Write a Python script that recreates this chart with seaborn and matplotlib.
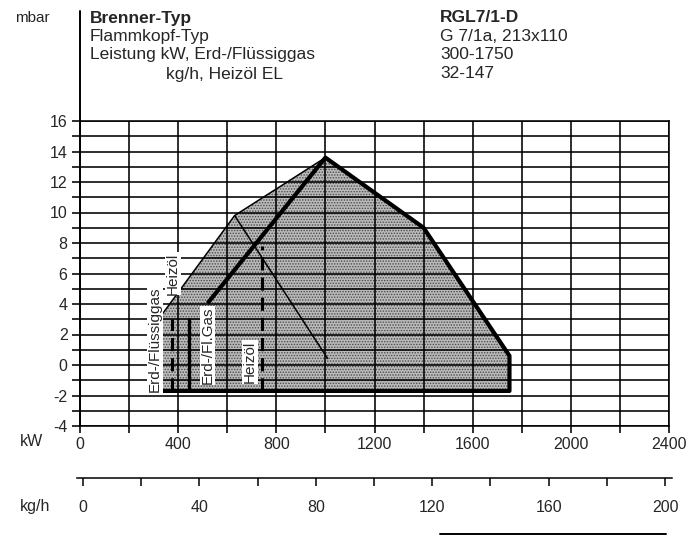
import numpy as np
import pandas as pd
import matplotlib
matplotlib.use("Agg")
import matplotlib.pyplot as plt
from matplotlib.lines import Line2D
from matplotlib.ticker import MultipleLocator
import seaborn as sns

# --- burner data -----------------------------------------------------------
# operating field outline (shaded area), kW vs. mbar
field_kw = [320, 320, 630, 1000, 1400, 1750, 1750]
field_mbar = [-1.7, 3.0, 9.8, 13.6, 9.0, 0.6, -1.7]

# gas operating range (heavy line)
gas_kw = [520, 1000, 1400, 1750, 1750, 320]
gas_mbar = [4.05, 13.6, 9.0, 0.6, -1.7, -1.7]

# fuel-oil range (thin lines)
oil_left_kw = [320, 320, 630, 1000]
oil_left_mbar = [-1.7, 3.0, 9.8, 13.6]
oil_right_kw = [630, 1010]
oil_right_mbar = [9.8, 0.4]

# minimum-load limits
gas_min_kw = [445, 445]
gas_min_mbar = [-1.7, 3.1]
oil_min_kw = [375, 375]
oil_min_mbar = [-1.7, 3.0]
oil_mid_kw = [742, 742]
oil_mid_mbar = [-1.7, 7.8]

kw_ticks = [0, 400, 800, 1200, 1600, 2000, 2400]
mbar_ticks = [-4, -2, 0, 2, 4, 6, 8, 10, 12, 14, 16]
kgh_ticks = [0, 40, 80, 120, 160, 200]

header_left = ["Brenner-Typ", "Flammkopf-Typ", "Leistung kW, Erd-/Flüssiggas", "kg/h, Heizöl EL"]
header_right = ["RGL7/1-D", "G 7/1a, 213x110", "300-1750", "32-147"]

# --- style -----------------------------------------------------------------
sns.set_theme(style="white")
plt.rcParams["font.family"] = ["Liberation Sans", "DejaVu Sans"]
plt.rcParams["hatch.linewidth"] = 0.7

W, H = 694, 538
fig = plt.figure(figsize=(W / 100, H / 100), dpi=100)
fig.patch.set_facecolor("white")

ax = fig.add_axes([80 / W, 112 / H, 589 / W, 305 / H])
ax.set_xlim(0, 2400)
ax.set_ylim(-4, 16)
ax.set_facecolor("white")

grid_lw = 1.15
ax.xaxis.set_major_locator(MultipleLocator(400))
ax.xaxis.set_minor_locator(MultipleLocator(200))
ax.yaxis.set_major_locator(MultipleLocator(2))
ax.yaxis.set_minor_locator(MultipleLocator(1))
ax.set_xticks(kw_ticks)
ax.set_yticks(mbar_ticks)
ax.set_xticklabels([str(v) for v in kw_ticks], fontsize=11.5)
ax.set_yticklabels([str(v) for v in mbar_ticks], fontsize=11.5)
ax.grid(True, which="both", color="black", lw=grid_lw)
ax.set_axisbelow(False)
for side in ["left", "right", "top", "bottom"]:
    ax.spines[side].set_visible(True)
    ax.spines[side].set_color("black")
    ax.spines[side].set_linewidth(grid_lw)
ax.spines["left"].set_linewidth(1.4)
ax.tick_params(axis="both", which="both", direction="out", color="black",
               width=grid_lw, bottom=True, left=True)
ax.tick_params(axis="y", which="both", length=6, pad=3)
ax.tick_params(axis="x", which="both", length=5, pad=3)

# shaded operating field
ax.fill(field_kw, field_mbar, facecolor="#bababa", edgecolor="#4a4a4a",
        hatch="......", lw=0, zorder=1)

def draw(xs, ys, lw, dashes=None):
    df = pd.DataFrame({"kW": xs, "mbar": ys})
    sns.lineplot(data=df, x="kW", y="mbar", sort=False, estimator=None,
                 color="black", lw=lw, ax=ax, zorder=4)
    if dashes is not None:
        ax.lines[-1].set_dashes(dashes)
    ax.lines[-1].set_solid_capstyle("butt")

draw(gas_kw, gas_mbar, 3.0)
draw(oil_left_kw, oil_left_mbar, 1.1)
draw(oil_right_kw, oil_right_mbar, 1.1)
draw(gas_min_kw, gas_min_mbar, 2.4)
draw(oil_min_kw, oil_min_mbar, 2.2, dashes=(4.3, 2.3))
draw(oil_mid_kw, oil_mid_mbar, 2.2, dashes=(4.3, 2.3))
ax.set_xlabel("")
ax.set_ylabel("")

# rotated range labels
box = dict(facecolor="white", edgecolor="none", pad=0.6)
lab_kw = dict(rotation=90, ha="center", va="center", fontsize=11, zorder=5)
ax.text(306, 1.7, "Erd-/Flüssiggas", bbox=box, **lab_kw)
ax.text(379, 6.0, "Heizöl", bbox=box, **lab_kw)
ax.text(519, 1.3, "Erd-/Fl.Gas", bbox=box, **lab_kw)
ax.text(693, 0.2, "Heizöl", bbox=box, **lab_kw)

# second scale: oil throughput in kg/h
ax2 = fig.add_axes([77 / W, 60 / H, 595 / W, 0.0001])
ax2.set_xlim(-2.06, 202.4)
ax2.set_yticks([])
for side in ["left", "right", "top"]:
    ax2.spines[side].set_visible(False)
ax2.spines["bottom"].set_color("black")
ax2.spines["bottom"].set_linewidth(1.1)
ax2.xaxis.set_minor_locator(MultipleLocator(20))
ax2.set_xticks(kgh_ticks)
ax2.set_xticklabels([str(v) for v in kgh_ticks], fontsize=11.5)
ax2.tick_params(axis="x", which="both", direction="out", length=6, width=1.1,
                color="black", pad=9.5, bottom=True)

# header block
fig.text(15 / W, 1 - 18 / H, "mbar", fontsize=11, va="center", ha="left")
rows_y = [18, 37, 55, 74]
for i, (l, r) in enumerate(zip(header_left, header_right)):
    y = 1 - rows_y[i] / H
    weight = "bold" if i == 0 else "normal"
    xl = 166 if i == 3 else 90
    fig.text(xl / W, y, l, fontsize=12.5, va="center", ha="left", fontweight=weight)
    fig.text(440 / W, y, r, fontsize=12.5, va="center", ha="left", fontweight=weight)

fig.text(20 / W, 1 - 441 / H, "kW", fontsize=11.5, va="center", ha="left")
fig.text(20 / W, 1 - 506 / H, "kg/h", fontsize=11.5, va="center", ha="left")

# vertical pressure axis continues up into the header
fig.add_artist(Line2D([80 / W, 80 / W], [1 - 11 / H, 1 - 121 / H],
                      color="black", lw=1.4))
# rule at the foot of the sheet
fig.add_artist(Line2D([440 / W, 666 / W], [1 - 534 / H, 1 - 534 / H],
                      color="black", lw=1.4))

fig.savefig("out.png", dpi=100, facecolor="white")
